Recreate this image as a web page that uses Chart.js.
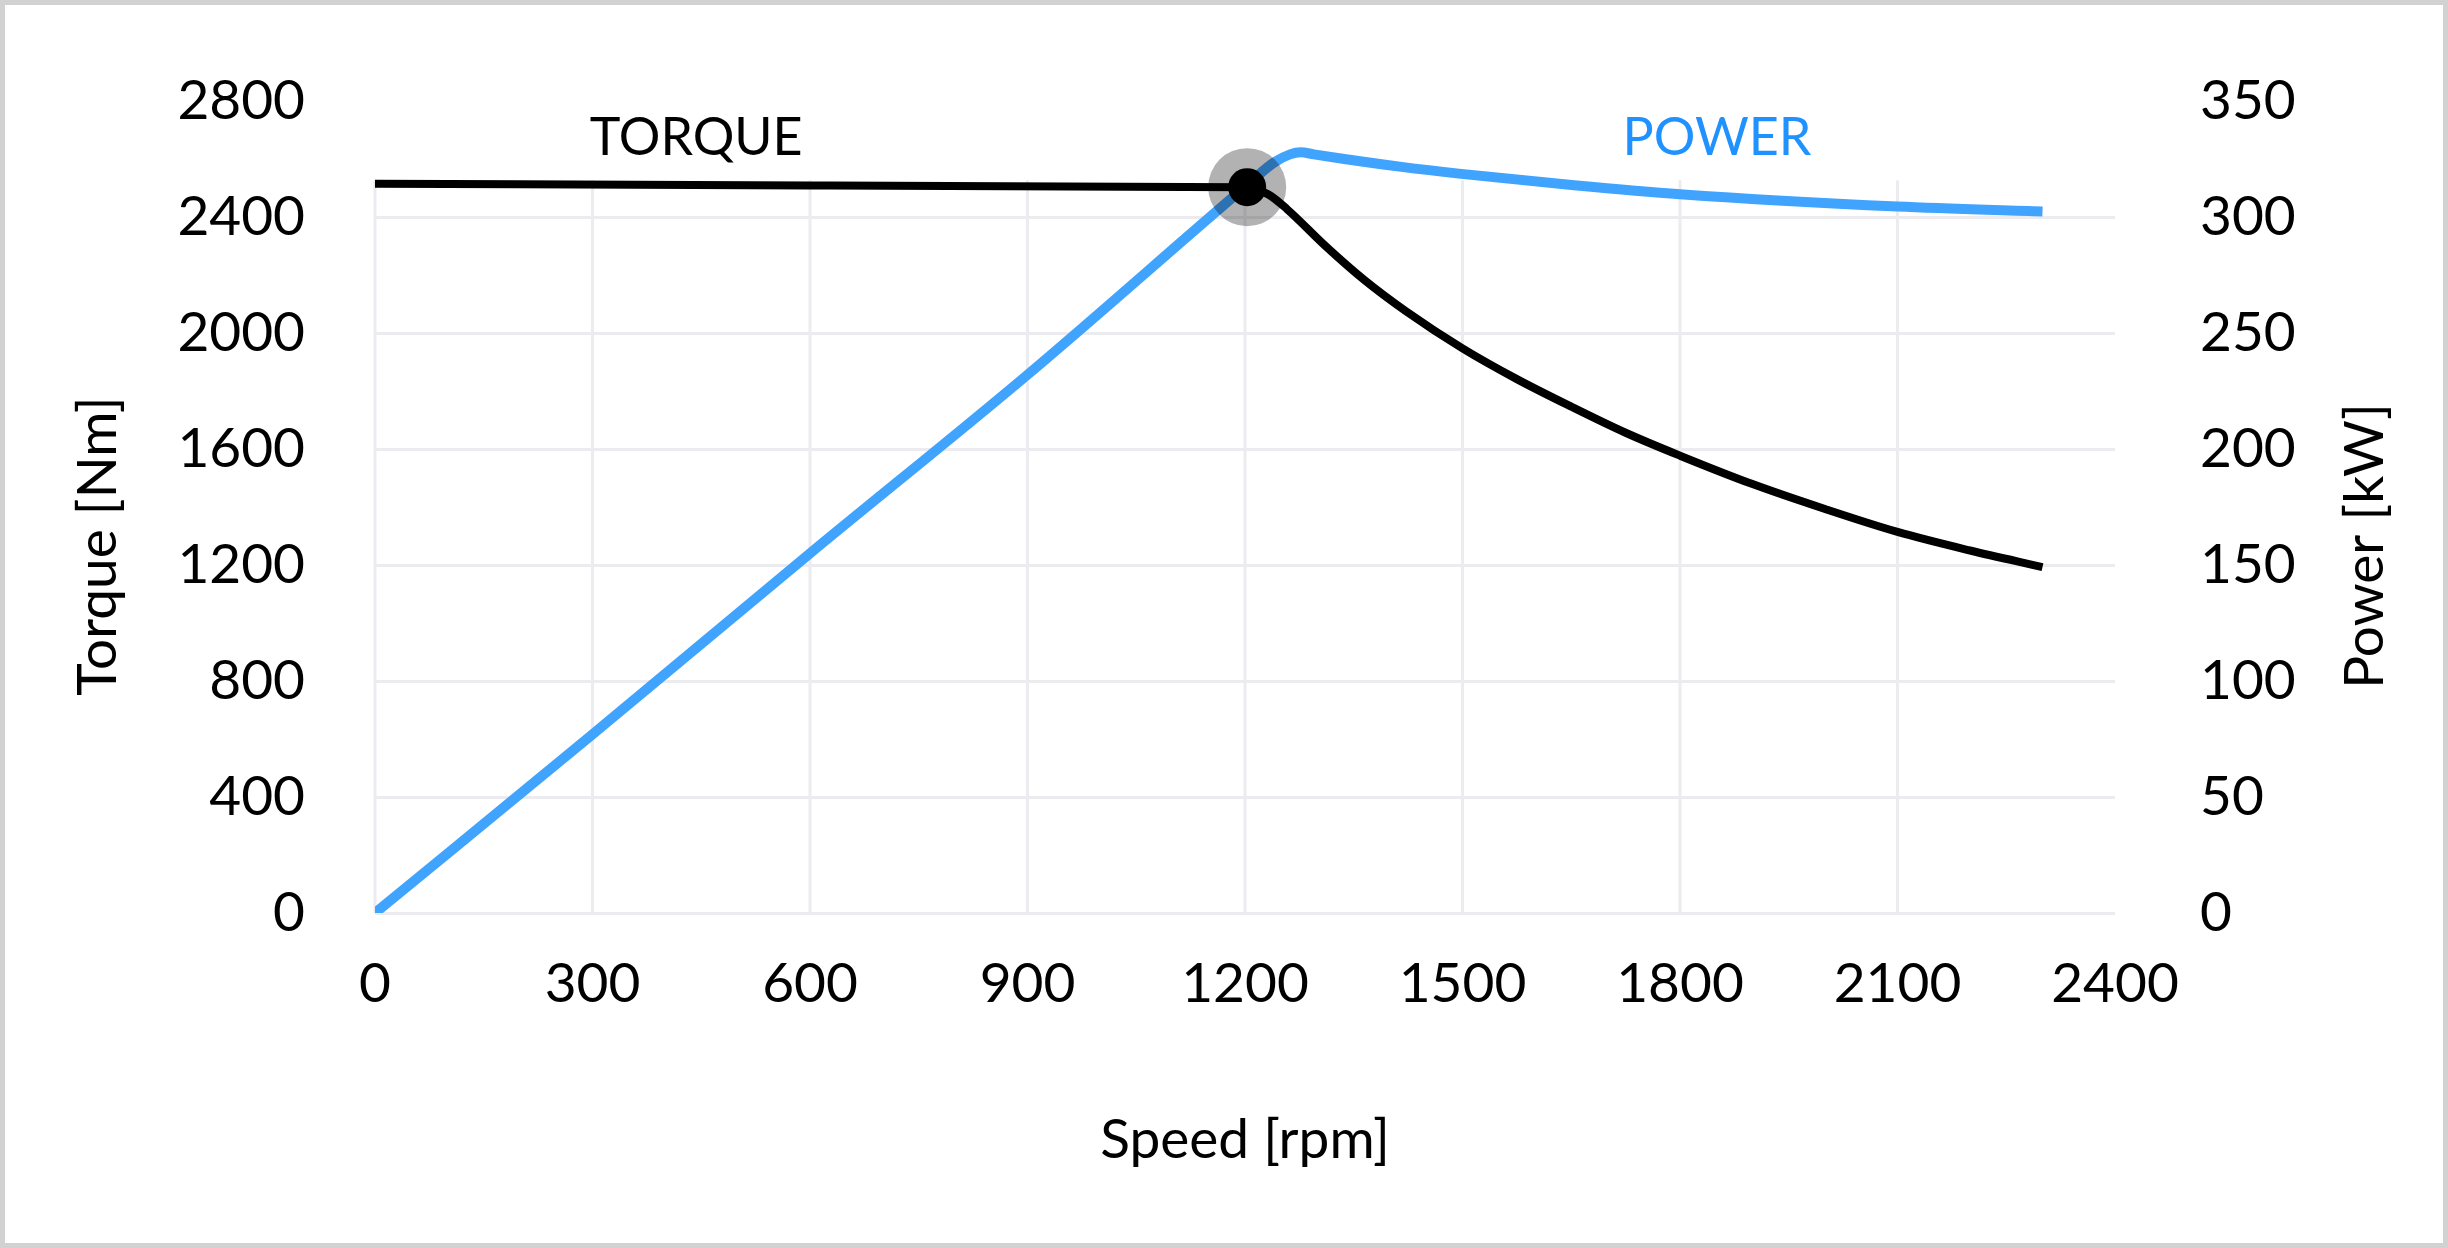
<!DOCTYPE html>
<html>
<head>
<meta charset="utf-8">
<script src="https://cdn.jsdelivr.net/npm/chart.js@4/dist/chart.umd.min.js"></script>
<style>
  html, body { margin: 0; padding: 0; background: #fff; }
  #frame {
    width: 2448px; height: 1248px; box-sizing: border-box;
    border: 5px solid #d2d2d2; background: #fff;
  }
  #frame canvas { display: block; }
</style>
</head>
<body>
<div id="frame"><canvas id="curva"></canvas></div>
<script>
// Valores //

const torqueSpeed = [0, 600, 1200, 1232, 1258, 1311, 1364, 1422, 1500, 1575, 1650, 1725, 1800, 1900, 2000, 2100, 2200, 2300];
const torqueNm    = [2515, 2509, 2503, 2478, 2427, 2300, 2184, 2075, 1947, 1841, 1746, 1656, 1577, 1479, 1393, 1314, 1250, 1193];

const powerSpeed = [0, 300, 600, 900, 1200, 1240, 1262, 1277, 1295, 1337, 1416, 1495, 1654, 1800, 2100, 2300];
const powerKw    = [0, 77, 155, 232, 313, 323.5, 327, 327.9, 327, 325, 321.6, 318.7, 313.7, 309.8, 304.5, 302.4];

// ponto de base (fim do torque constante)
const cornerSpeed = [1203];
const cornerTorque = [2503];

const speedTicks  = [0, 300, 600, 900, 1200, 1500, 1800, 2100, 2400];
const torqueTicks = [0, 400, 800, 1200, 1600, 2000, 2400, 2800];
const powerTicks  = [0, 50, 100, 150, 200, 250, 300, 350];

// Estilo //

const FONT = "Lato, 'DejaVu Sans', sans-serif";
const FS = 55;
const gridColor = "#ececf0";
const blue = "#40a4ff";
const blueText = "#1f92ff";

const seriesLabels = [
    { text: "TORQUE", speed: 443, torque: 2670, color: "#000" },
    { text: "POWER", speed: 1851, torque: 2670, color: blueText }
];

const canvas = document.getElementById("curva");
canvas.width = 2438;
canvas.height = 1238;

function pares(xs, ys) {
    return xs.map((v, i) => ({ x: v, y: ys[i] }));
}

// linhas verticais da grade só até ~2530 Nm, textos TORQUE / POWER e títulos dos eixos Y
const extras = {
    id: "extras",
    beforeDatasetsDraw(chart) {
        const { ctx, scales } = chart;
        const x = scales.x, y = scales.y;
        ctx.save();
        ctx.strokeStyle = gridColor;
        ctx.lineWidth = 3;
        speedTicks.slice(0, -1).forEach(v => {
            const px = x.getPixelForValue(v);
            ctx.beginPath();
            ctx.moveTo(px, y.getPixelForValue(0));
            ctx.lineTo(px, y.getPixelForValue(2527));
            ctx.stroke();
        });
        ctx.restore();
    },
    afterDraw(chart) {
        const { ctx, scales, chartArea } = chart;
        ctx.save();
        ctx.font = `52px ${FONT}`;
        ctx.textAlign = "center";
        ctx.textBaseline = "middle";
        seriesLabels.forEach(l => {
            ctx.fillStyle = l.color;
            ctx.fillText(l.text, scales.x.getPixelForValue(l.speed), scales.y.getPixelForValue(l.torque));
        });

        // títulos verticais (ambos lidos de baixo para cima)
        ctx.font = `${FS}px ${FONT}`;
        ctx.fillStyle = "#000";
        const midY = chartArea.top + (chartArea.bottom - chartArea.top) * 0.548;
        [["Torque [Nm]", 93], ["Power [kW]", 2360]].forEach(([txt, cx]) => {
            ctx.save();
            ctx.translate(cx, midY);
            ctx.rotate(-Math.PI / 2);
            ctx.fillText(txt, 0, 0);
            ctx.restore();
        });
        ctx.restore();
    }
};

const semVirgula = v => String(v);

const chart = new Chart(canvas, {
    type: "line",
    data: {
        datasets: [
            {
                label: "corner",
                data: pares(cornerSpeed, cornerTorque),
                yAxisID: "y",
                showLine: false,
                pointRadius: 19,
                pointBackgroundColor: "#000",
                pointBorderWidth: 0,
                order: 0
            },
            {
                label: "halo",
                data: pares(cornerSpeed, cornerTorque),
                yAxisID: "y",
                showLine: false,
                pointRadius: 39,
                pointBackgroundColor: "rgba(0,0,0,0.3)",
                pointBorderWidth: 0,
                order: 1
            },
            {
                label: "Torque",
                data: pares(torqueSpeed, torqueNm),
                yAxisID: "y",
                borderColor: "#000",
                borderWidth: 8,
                pointRadius: 0,
                cubicInterpolationMode: "monotone",
                order: 2
            },
            {
                label: "Power",
                data: pares(powerSpeed, powerKw),
                yAxisID: "y1",
                borderColor: blue,
                borderWidth: 10,
                pointRadius: 0,
                cubicInterpolationMode: "monotone",
                order: 3
            }
        ]
    },
    options: {
        responsive: false,
        animation: false,
        devicePixelRatio: 1,
        layout: { padding: { top: 96, left: 0, right: 0, bottom: 0 } },
        plugins: {
            legend: { display: false },
            tooltip: { enabled: false }
        },
        scales: {
            x: {
                type: "linear",
                min: 0,
                max: 2400,
                afterBuildTicks: s => { s.ticks = speedTicks.map(v => ({ value: v })); },
                afterFit: s => { s.height = 330; },
                ticks: { color: "#000", padding: 38, callback: semVirgula, font: { family: FONT, size: FS } },
                grid: { display: false, drawTicks: false },
                border: { display: false },
                title: {
                    display: true,
                    text: "Speed [rpm]",
                    color: "#000",
                    font: { family: FONT, size: FS },
                    padding: { top: 0, bottom: 70 }
                }
            },
            y: {
                position: "left",
                min: 0,
                max: 2800,
                afterBuildTicks: s => { s.ticks = torqueTicks.map(v => ({ value: v })); },
                afterFit: s => { s.width = 370; },
                // o afastamento dos rótulos vem do tickLength (marca transparente)
                ticks: { color: "#000", padding: 0, callback: semVirgula, font: { family: FONT, size: FS } },
                grid: {
                    drawTicks: true,
                    tickLength: 70,
                    tickColor: "rgba(0,0,0,0)",
                    lineWidth: 3,
                    color: c => (c.tick && c.tick.value === 2800) ? "rgba(0,0,0,0)" : gridColor
                },
                border: { display: false }
            },
            y1: {
                position: "right",
                min: 0,
                max: 350,
                afterBuildTicks: s => { s.ticks = powerTicks.map(v => ({ value: v })); },
                afterFit: s => { s.width = 328; },
                ticks: { color: "#000", padding: 0, callback: semVirgula, font: { family: FONT, size: FS } },
                grid: {
                    display: true,
                    drawOnChartArea: false,
                    drawTicks: true,
                    tickLength: 85,
                    tickColor: "rgba(0,0,0,0)"
                },
                border: { display: false }
            }
        }
    },
    plugins: [extras]
});
</script>
</body>
</html>
